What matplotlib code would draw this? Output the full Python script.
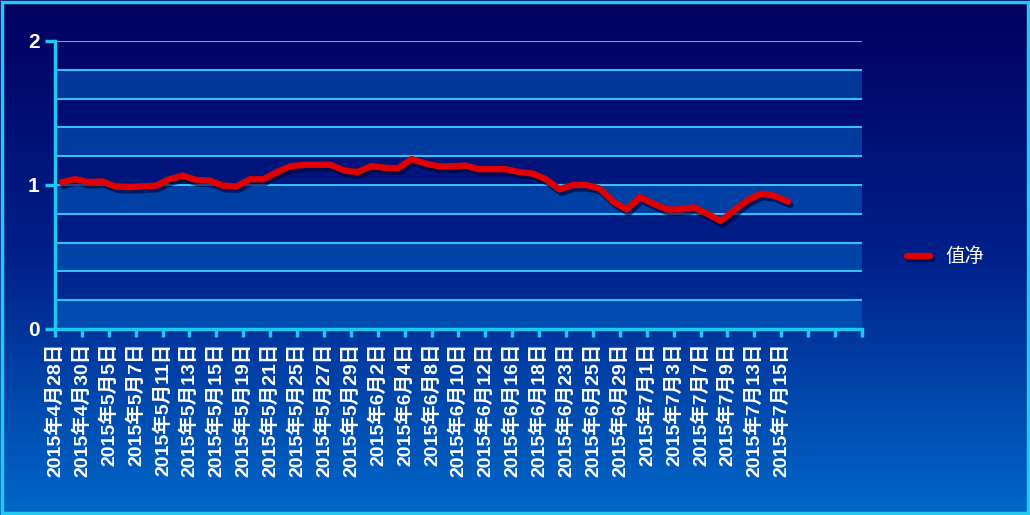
import numpy as np
import matplotlib
matplotlib.use("Agg")
import matplotlib.pyplot as plt
import matplotlib.patheffects as pe
from matplotlib.colors import LinearSegmentedColormap
from matplotlib.patches import Rectangle

plt.rcParams['font.family'] = ['Liberation Sans', 'Noto Sans CJK SC', 'DejaVu Sans']

# trading days 2015-04-28 .. 2015-07-15
month_days = {
    4: [28, 29, 30],
    5: [4, 5, 6, 7, 8, 11, 12, 13, 14, 15, 18, 19, 20, 21, 22, 25, 26, 27, 28, 29],
    6: [1, 2, 3, 4, 5, 8, 9, 10, 11, 12, 15, 16, 17, 18, 19, 23, 24, 25, 26, 29, 30],
    7: [1, 2, 3, 6, 7, 8, 9, 10, 13, 14, 15],
}
dates = [f"2015年{m}月{d}日" for m, ds in month_days.items() for d in ds]

# 净值
values = [1.02, 1.04, 1.02, 1.025, 0.99, 0.985, 0.99, 0.995, 1.04, 1.065,
          1.035, 1.03, 0.995, 0.99, 1.04, 1.04, 1.09, 1.13, 1.14, 1.14,
          1.14, 1.10, 1.09, 1.13, 1.12, 1.115, 1.18, 1.15, 1.13, 1.13,
          1.135, 1.11, 1.11, 1.11, 1.09, 1.08, 1.04, 0.97, 1.0, 1.0,
          0.975, 0.885, 0.83, 0.915, 0.87, 0.83, 0.83, 0.845, 0.80, 0.75,
          0.825, 0.895, 0.94, 0.925, 0.885]
series_name = "值净"
n_slots = 60  # category slots on the axis (5 empty at the end)

W, H = 1030, 515
fig = plt.figure(figsize=(W / 100, H / 100), dpi=100)

# background gradient
bg = fig.add_axes([0, 0, 1, 1])
bg.set_axis_off()
cmap = LinearSegmentedColormap.from_list("bg", ["#000060", "#00208a", "#0068c8"])
grad = np.linspace(0, 1, 256).reshape(-1, 1)
bg.imshow(grad, aspect="auto", cmap=cmap, extent=[0, 1, 0, 1], origin="upper")
bg.add_patch(Rectangle((0.0015, 0.003), 0.997, 0.994, transform=bg.transAxes,
                       fill=False, ec="#22c8ee", lw=2.5))

ax = fig.add_axes([55 / W, 1 - 329 / H, (862 - 55) / W, (329 - 41) / H])
ax.patch.set_alpha(0)
x = np.arange(len(values))
ax.set_xlim(-0.5, n_slots - 0.5)
ax.set_ylim(0, 2)

# alternating bands + grid
for k in range(10):
    lo = k * 0.2
    if k % 2 == 0:
        ax.axhspan(lo, lo + 0.2, color="#0070d0", alpha=0.45, lw=0, zorder=0)
for k in range(1, 11):
    ax.axhline(k * 0.2, color="#38bdf4", lw=1.5, zorder=1)

ax.plot(x, values, color="#e00000", lw=4.6, solid_capstyle="round",
        solid_joinstyle="round", label=series_name, zorder=3,
        path_effects=[pe.SimpleLineShadow(offset=(1.5, -2.5), shadow_color="#000030", alpha=0.6),
                      pe.Normal()])

for s in ["top", "right"]:
    ax.spines[s].set_visible(False)
for s in ["left", "bottom"]:
    ax.spines[s].set_color("#1ec8f0")
    ax.spines[s].set_linewidth(2.5)
    ax.spines[s].set_zorder(4)

ax.set_yticks([0, 1, 2])
ax.set_yticklabels(["0", "1", "2"], color="white", fontsize=15, fontweight="bold")
ax.tick_params(axis="y", length=7, width=2.5, color="#1ec8f0", pad=4)

ticks = np.arange(-0.5, n_slots, 2)
labels = [dates[i] if i < len(dates) else "" for i in range(0, n_slots + 1, 2)]
ax.set_xticks(ticks)
ax.set_xticklabels(labels, rotation=90, color="white", fontsize=14, fontweight="bold",
                   ha="center", va="top")
ax.tick_params(axis="x", length=6, width=2.5, color="#1ec8f0", pad=4)

leg = ax.legend(loc="center left", bbox_to_anchor=(897 / W, 1 - 257 / H),
                bbox_transform=fig.transFigure, frameon=False, fontsize=14,
                handlelength=1.2, handletextpad=0.8, borderpad=0)
for t in leg.get_texts():
    t.set_color("white")

fig.savefig("out.png", dpi=100)
